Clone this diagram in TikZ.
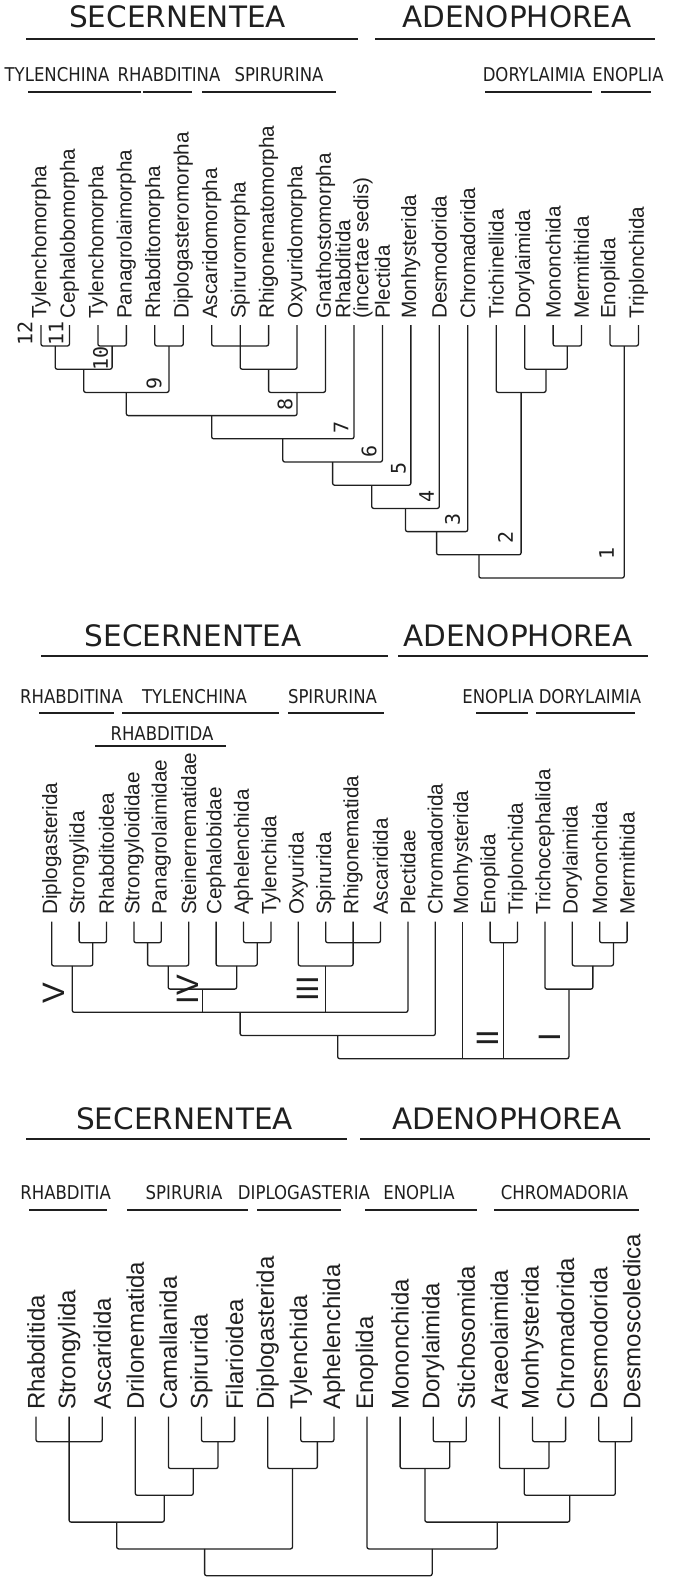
\documentclass[tikz,border=0pt]{standalone}
\usepackage{fontspec}
\setmainfont{Liberation Sans}
\newfontfamily\headfont{DejaVu Sans}
\newfontfamily\subfont[FakeStretch=0.87]{DejaVu Sans}
\newfontfamily\numfont{DejaVu Sans Mono}
\definecolor{ink}{gray}{0.12}

\begin{document}
\begin{tikzpicture}[x=1pt,y=-1pt,
    every node/.style={text=ink},
    leaf/.style={rotate=90,anchor=west,inner sep=0pt,align=left,font=\fontsize{20.7}{18}\selectfont},
    bigleaf/.style={leaf,font=\fontsize{24}{24}\selectfont},
    head/.style={inner sep=0pt,font=\headfont\fontsize{29.5}{30}\selectfont},
    sub/.style={inner sep=0pt,font=\subfont\fontsize{19}{19}\selectfont},
    num/.style={rotate=90,inner sep=0pt,font=\numfont\fontsize{20}{20}\selectfont},
    roman/.style={rotate=90,inner sep=0pt,font=\fontsize{31}{31}\selectfont},
    branch/.style={draw=ink,line width=1.3pt,rounded corners=2pt},
    rule/.style={draw=ink,line width=2pt}]
    \useasboundingbox (0,0) rectangle (674,1583);

    % first tree
    \node[head] (seca) at (177.5,17) {SECERNENTEA};
    \node[head] (adea) at (517,17) {ADENOPHOREA};
    \draw[rule] (26,39) -- (358,39);
    \draw[rule] (375,39) -- (655,39);

    \node[sub] (tyla) at (57,74.5) {TYLENCHINA};
    \node[sub] (rhaa) at (169,74.5) {RHABDITINA};
    \node[sub] (spia) at (279,74.5) {SPIRURINA};
    \node[sub] (dora) at (534,74.5) {DORYLAIMIA};
    \node[sub] (enoa) at (628,74.5) {ENOPLIA};
    \draw[rule] (28,92) -- (141,92);
    \draw[rule] (143,92) -- (192,92);
    \draw[rule] (202,92) -- (336,92);
    \draw[rule] (485,92) -- (592,92);
    \draw[rule] (601,92) -- (651,92);

    \foreach \t [count=\i from 0] in {Tylenchomorpha,Cephalobomorpha,Tylenchomorpha,
        Panagrolaimorpha,Rhabditomorpha,Diplogasteromorpha,Ascaridomorpha,Spiruromorpha,
        Rhigonematomorpha,Oxyuridomorpha,Gnathostomorpha,{Rhabditida\\(incertae sedis)},
        Plectida,Monhysterida,Desmodorida,Chromadorida,Trichinellida,Dorylaimida,
        Mononchida,Mermithida,Enoplida,Triplonchida}
    {
        \node[leaf] (a\i) at ({41+28.45*\i},319) {\t};
        \coordinate (ta\i) at ({41+28.45*\i},325);
    }

    \coordinate (a11) at (55.2,346);
    \coordinate (aTP) at (112.1,346);
    \coordinate (a10) at (83.7,369.2);
    \coordinate (aRD) at (169,346);
    \coordinate (a9) at (126.3,392.4);
    \coordinate (aAR) at (240.15,346);
    \coordinate (aSO) at (268.6,369.2);
    \coordinate (aSG) at (297.05,392.4);
    \coordinate (a8) at (211.7,415.6);
    \coordinate (a7) at (282.8,438.8);
    \coordinate (a6) at (332.6,462);
    \coordinate (a5) at (371.7,485.2);
    \coordinate (a4) at (405.5,508.4);
    \coordinate (a3) at (436.6,531.6);
    \coordinate (aMM) at (567.3,346);
    \coordinate (aDM) at (546,369.2);
    \coordinate (aTD) at (521.1,392.4);
    \coordinate (a2) at (478.9,554.8);
    \coordinate (aET) at (624.2,346);
    \coordinate (a1) at (551.5,578);

    \draw[branch] (ta0) |- (a11) -| (ta1);
    \draw[branch] (ta2) |- (aTP) -| (ta3);
    \draw[branch] (a11) |- (a10) -| (aTP);
    \draw[branch] (ta4) |- (aRD) -| (ta5);
    \draw[branch] (a10) |- (a9) -| (aRD);
    \draw[branch] (ta6) |- (aAR) -| (ta8);
    \draw[branch] (ta7) |- (aSO) -| (ta9);
    \draw[branch] (aSO) |- (aSG) -| (ta10);
    \draw[branch] (a9) |- (a8) -| (aSG);
    \draw[branch] (a8) |- (a7) -| (ta11);
    \draw[branch] (a7) |- (a6) -| (ta12);
    \draw[branch] (a6) |- (a5) -| (ta13);
    \draw[branch] (a5) |- (a4) -| (ta14);
    \draw[branch] (a4) |- (a3) -| (ta15);
    \draw[branch] (ta18) |- (aMM) -| (ta19);
    \draw[branch] (ta17) |- (aDM) -| (aMM);
    \draw[branch] (ta16) |- (aTD) -| (aDM);
    \draw[branch] (a3) |- (a2) -| (aTD);
    \draw[branch] (ta20) |- (aET) -| (ta21);
    \draw[branch] (a2) |- (a1) -| (aET);

    \node[num] (k1) at (606.5,553) {1};
    \node[num] (k2) at (505.5,537) {2};
    \node[num] (k3) at (452.5,519) {3};
    \node[num] (k4) at (426.5,496) {4};
    \node[num] (k5) at (398.5,468) {5};
    \node[num] (k6) at (369,451) {6};
    \node[num] (k7) at (341,427) {7};
    \node[num] (k8) at (285,404) {8};
    \node[num] (k9) at (154,383.5) {9};
    \node[num] (k10) at (100.5,358) {10};
    \node[num] (k11) at (56,333) {11};
    \node[num] (k12) at (25,333) {12};

    % second tree
    \node[head] (secb) at (193,636) {SECERNENTEA};
    \node[head] (adeb) at (518,636) {ADENOPHOREA};
    \draw[rule] (41,656) -- (388,656);
    \draw[rule] (398,656) -- (648,656);

    \node[sub] (rhab) at (71.5,697) {RHABDITINA};
    \node[sub] (tylb) at (194.5,697) {TYLENCHINA};
    \node[sub] (spib) at (332.5,697) {SPIRURINA};
    \node[sub] (enob) at (498,697) {ENOPLIA};
    \node[sub] (dorb) at (590,697) {DORYLAIMIA};
    \node[sub] (rhdb) at (162,733.5) {RHABDITIDA};
    \draw[rule] (39,713) -- (114,713);
    \draw[rule] (122,713) -- (279,713);
    \draw[rule] (288,713) -- (384,713);
    \draw[rule] (476,713) -- (528,713);
    \draw[rule] (536,713) -- (635,713);
    \draw[rule] (95,746) -- (226,746);

    \foreach \t [count=\i from 0] in {Diplogasterida,Strongylida,Rhabditoidea,
        Strongyloididae,Panagrolaimidae,Steinernematidae,Cephalobidae,Aphelenchida,
        Tylenchida,Oxyurida,Spirurida,Rhigonematida,Ascaridida,Plectidae,Chromadorida,
        Monhysterida,Enoplida,Triplonchida,Trichocephalida,Dorylaimida,Mononchida,Mermithida}
    {
        \node[leaf] (b\i) at ({51.7+27.4*\i},915) {\t};
        \coordinate (tb\i) at ({51.7+27.4*\i},921.7);
    }

    \coordinate (bSR) at (92.8,942.7);
    \coordinate (bV) at (72.25,965.9);
    \coordinate (bSP) at (147.6,942.7);
    \coordinate (bSS) at (168.15,965.9);
    \coordinate (bAT) at (257.2,942.7);
    \coordinate (bCA) at (236.65,965.9);
    \coordinate (bIV) at (202.4,989.1);
    \coordinate (bSA) at (353.1,942.7);
    \coordinate (bIII) at (325.7,965.9);
    \coordinate (bM3) at (240.1,1012.3);
    \coordinate (bM4) at (337.7,1035.5);
    \coordinate (bMM) at (613.4,942.7);
    \coordinate (bDM) at (592.85,965.9);
    \coordinate (bI) at (568.9,989.1);
    \coordinate (bET) at (503.8,942.7);
    \coordinate (bM5) at (453.3,1058.7);

    \draw[branch] (tb1) |- (bSR) -| (tb2);
    \draw[branch] (tb0) |- (bV) -| (bSR);
    \draw[branch] (tb3) |- (bSP) -| (tb4);
    \draw[branch] (bSP) |- (bSS) -| (tb5);
    \draw[branch] (tb7) |- (bAT) -| (tb8);
    \draw[branch] (tb6) |- (bCA) -| (bAT);
    \draw[branch] (bSS) |- (bIV) -| (bCA);
    \draw[branch] (tb10) |- (bSA) -| (tb12);
    \draw[branch] (tb9) |- (bIII) -| (tb11);
    \draw[branch] (bV) |- (bM3) -| (tb13);
    \draw[branch] (bIV) -- (bIV |- bM3);
    \draw[branch] (bIII) -- (bIII |- bM3);
    \draw[branch] (bM3) |- (bM4) -| (tb14);
    \draw[branch] (tb20) |- (bMM) -| (tb21);
    \draw[branch] (tb19) |- (bDM) -| (bMM);
    \draw[branch] (tb18) |- (bI) -| (bDM);
    \draw[branch] (tb16) |- (bET) -| (tb17);
    \draw[branch] (bM4) |- (bM5) -| (bI);
    \draw[branch] (tb15) -- (tb15 |- bM5);
    \draw[branch] (bET) -- (bET |- bM5);

    \node[roman] (rV) at (54,993) {V};
    \node[roman] (rIV) at (187.5,989.5) {IV};
    \node[roman] (rIII) at (308,989) {III};
    \node[roman] (rII) at (488,1038) {II};
    \node[roman] (rI) at (550,1037) {I};

    % third tree
    \node[head] (secc) at (184.5,1119) {SECERNENTEA};
    \node[head] (adec) at (507,1119) {ADENOPHOREA};
    \draw[rule] (26,1139.3) -- (347,1139.3);
    \draw[rule] (360,1139.3) -- (650,1139.3);

    \node[sub] (rhac) at (65.6,1192.5) {RHABDITIA};
    \node[sub] (spic) at (184,1192.5) {SPIRURIA};
    \node[sub] (dipc) at (304,1192.5) {DIPLOGASTERIA};
    \node[sub] (enoc) at (419,1192.5) {ENOPLIA};
    \node[sub] (chrc) at (564.5,1192.5) {CHROMADORIA};
    \draw[rule] (29,1210) -- (107,1210);
    \draw[rule] (127,1210) -- (248,1210);
    \draw[rule] (257,1210) -- (341,1210);
    \draw[rule] (365,1210) -- (477,1210);
    \draw[rule] (494,1210) -- (639,1210);

    \foreach \t [count=\i from 0] in {Rhabditida,Strongylida,Ascaridida,Drilonematida,
        Camallanida,Spirurida,Filarioidea,Diplogasterida,Tylenchida,Aphelenchida,
        Enoplida,Mononchida,Dorylaimida,Stichosomida,Araeolaimida,Monhysterida,
        Chromadorida,Desmodorida,Desmoscoledica}
    {
        \node[bigleaf] (c\i) at ({36+33.1*\i},1410) {\t};
        \coordinate (tc\i) at ({36+33.1*\i},1416.7);
    }

    \coordinate (cRA) at (69.1,1441.7);
    \coordinate (cSF) at (218.05,1441.7);
    \coordinate (cCS) at (193.2,1468.5);
    \coordinate (cDC) at (164.25,1495.3);
    \coordinate (cRh) at (116.7,1522.1);
    \coordinate (cTA) at (317.35,1441.7);
    \coordinate (cDi) at (292.5,1468.5);
    \coordinate (cSec) at (204.6,1548.9);
    \coordinate (cDS) at (449.75,1441.7);
    \coordinate (cMo) at (424.9,1468.5);
    \coordinate (cMC) at (549.05,1441.7);
    \coordinate (cAr) at (524.2,1468.5);
    \coordinate (cDD) at (615.25,1441.7);
    \coordinate (cCh) at (569.7,1495.3);
    \coordinate (cMC2) at (497.3,1522.1);
    \coordinate (cAde) at (432.15,1548.9);
    \coordinate (croot) at (318.4,1575.7);

    \draw[branch] (tc0) |- (cRA) -| (tc2);
    \draw[branch] (tc5) |- (cSF) -| (tc6);
    \draw[branch] (tc4) |- (cCS) -| (cSF);
    \draw[branch] (tc3) |- (cDC) -| (cCS);
    \draw[branch] (tc1) |- (cRh) -| (cDC);
    \draw[branch] (tc8) |- (cTA) -| (tc9);
    \draw[branch] (tc7) |- (cDi) -| (cTA);
    \draw[branch] (cRh) |- (cSec) -| (cDi);
    \draw[branch] (tc12) |- (cDS) -| (tc13);
    \draw[branch] (tc11) |- (cMo) -| (cDS);
    \draw[branch] (tc15) |- (cMC) -| (tc16);
    \draw[branch] (tc14) |- (cAr) -| (cMC);
    \draw[branch] (tc17) |- (cDD) -| (tc18);
    \draw[branch] (cAr) |- (cCh) -| (cDD);
    \draw[branch] (cMo) |- (cMC2) -| (cCh);
    \draw[branch] (tc10) |- (cAde) -| (cMC2);
    \draw[branch] (cSec) |- (croot) -| (cAde);
\end{tikzpicture}
\end{document}
